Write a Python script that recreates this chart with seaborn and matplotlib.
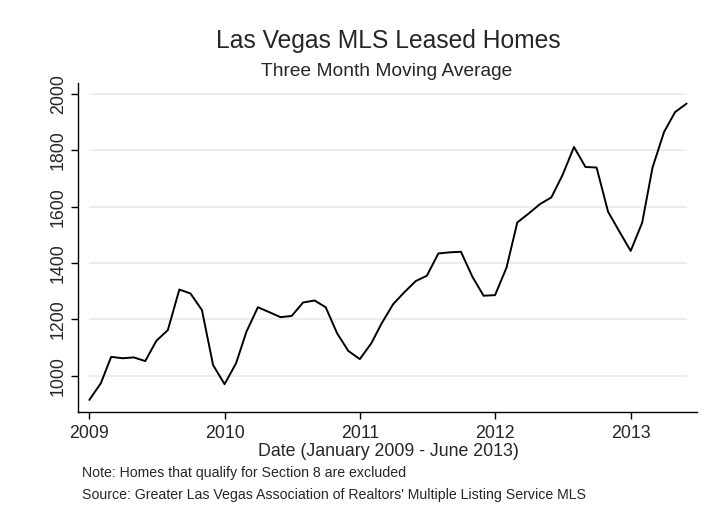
import matplotlib
matplotlib.use('Agg')
import matplotlib.pyplot as plt
import seaborn as sns
import pandas as pd

# Three month moving average of leased homes, Jan 2009 - Jun 2013
months = pd.date_range('2009-01-01', periods=54, freq='MS')
leased_2009 = [914, 973, 1067, 1062, 1065, 1052, 1124, 1162, 1306, 1292, 1233, 1038]
leased_2010 = [970, 1044, 1156, 1243, 1226, 1208, 1212, 1260, 1267, 1243, 1150, 1088]
leased_2011 = [1059, 1115, 1186, 1254, 1296, 1336, 1355, 1434, 1438, 1440, 1351, 1284]
leased_2012 = [1286, 1384, 1544, 1576, 1609, 1633, 1712, 1812, 1741, 1739, 1582, 1513]
leased_2013 = [1443, 1543, 1739, 1865, 1936, 1966]
leased = leased_2009 + leased_2010 + leased_2011 + leased_2012 + leased_2013

year_ticks = ['2009', '2010', '2011', '2012', '2013']
y_ticks = [1000, 1200, 1400, 1600, 1800, 2000]

df = pd.DataFrame({'Date': months, 'Leased': leased})

sns.set_style('white')
plt.rcParams['font.family'] = ['Liberation Sans', 'DejaVu Sans']

fig = plt.figure(figsize=(7.1, 5.2), dpi=100)
ax = fig.add_axes([78 / 710, 1 - 411.5 / 520, (697 - 78) / 710, (411.5 - 83.3) / 520])

# grid only over the data range, like Stata's plot region
ax.hlines(y_ticks, months[0], months[-1], color='#e8e8e8', lw=1.1, zorder=0)

sns.lineplot(data=df, x='Date', y='Leased', color='black', lw=1.4, ax=ax)

ax.set_xlim(months[0] - pd.Timedelta(days=30.5), months[-1] + pd.Timedelta(days=28))
ax.set_ylim(873, 2038)

ax.set_xticks([pd.Timestamp(y + '-01-01') for y in year_ticks])
ax.set_xticklabels(year_ticks)
ax.set_yticks(y_ticks)
ax.set_yticklabels([str(v) for v in y_ticks], rotation=90, va='center')

ax.tick_params(axis='x', length=5, width=1, color='black', labelsize=12.8, pad=5)
ax.tick_params(axis='y', length=5, width=1, color='black', labelsize=12.8, pad=3)
ax.tick_params(left=True, bottom=True)

for side in ['top', 'right']:
    ax.spines[side].set_visible(False)
for side in ['left', 'bottom']:
    ax.spines[side].set_color('black')
    ax.spines[side].set_linewidth(1.0)

ax.set_xlabel('')
ax.set_ylabel('')

# titles and notes
fig.text(388.5 / 710, 1 - 48.3 / 520, 'Las Vegas MLS Leased Homes',
         ha='center', va='baseline', fontsize=17.7)
fig.text(387 / 710, 1 - 76 / 520, 'Three Month Moving Average',
         ha='center', va='baseline', fontsize=13.8)
fig.text(388.5 / 710, 1 - 456 / 520, 'Date (January 2009 - June 2013)',
         ha='center', va='baseline', fontsize=12.8)
fig.text(81.7 / 710, 1 - 477.3 / 520, 'Note: Homes that qualify for Section 8 are excluded',
         ha='left', va='baseline', fontsize=10.2)
fig.text(81.7 / 710, 1 - 499 / 520,
         "Source: Greater Las Vegas Association of Realtors' Multiple Listing Service MLS",
         ha='left', va='baseline', fontsize=10.2)

plt.savefig('out.png', dpi=100)
plt.close()
